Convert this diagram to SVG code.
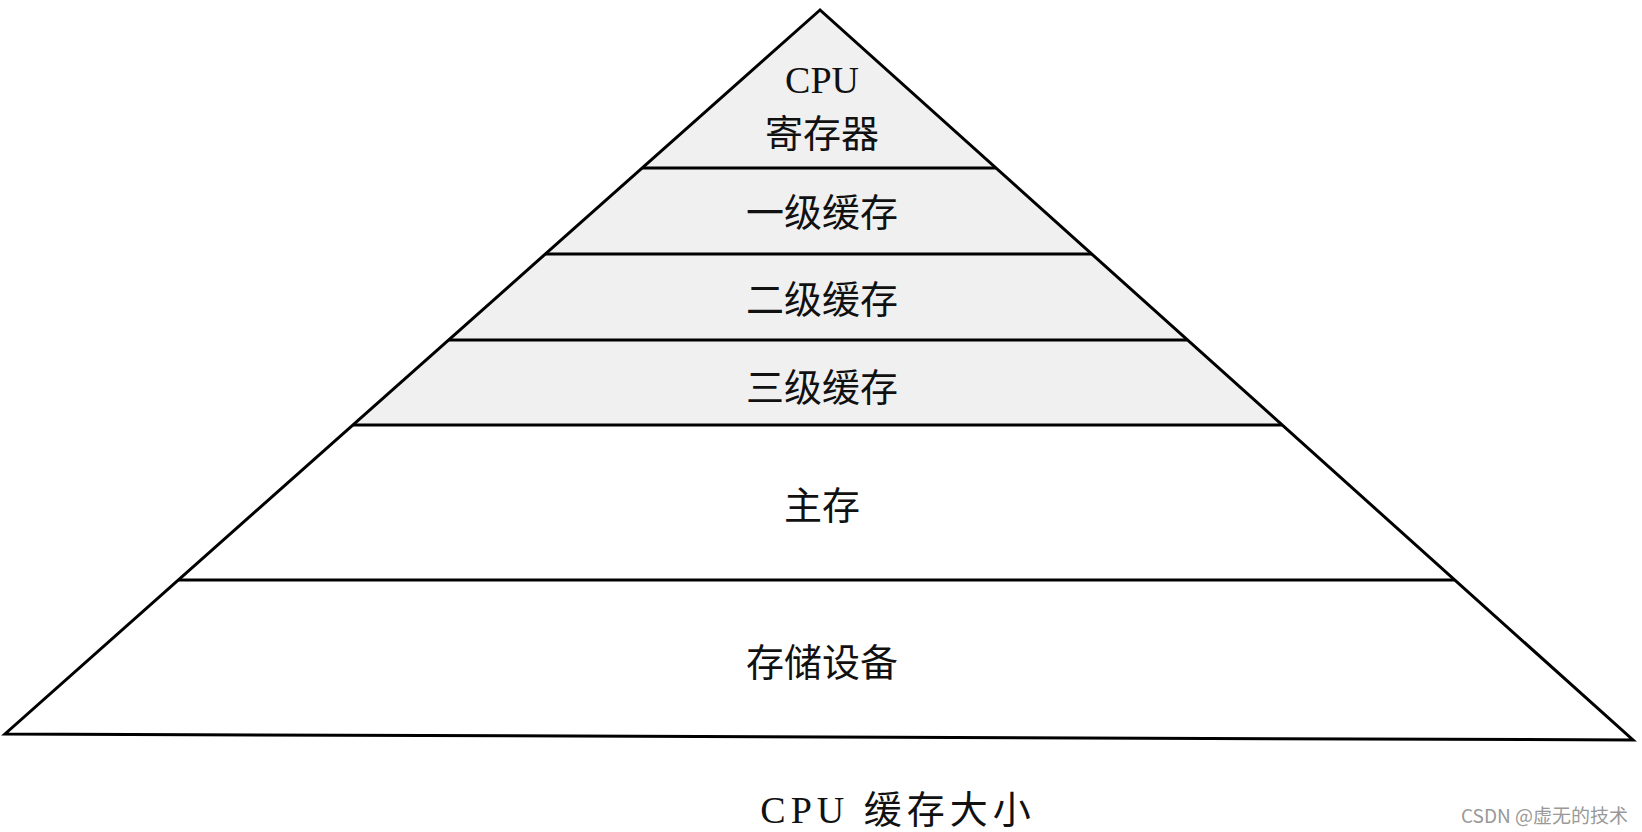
<svg xmlns="http://www.w3.org/2000/svg" width="1642" height="832" viewBox="0 0 1642 832">
<style>
.t{font-family:"Liberation Serif","Noto Sans CJK SC",serif;font-size:38px;fill:#111;text-anchor:middle;dominant-baseline:central}
.ln{stroke:#000;stroke-width:3;fill:none}
.g{fill:#f0f0f0}
</style>
<rect width="1642" height="832" fill="#fff"/>
<g id="fills">
<polygon class="g" points="820,10 353,425 1282,425"/>
</g>
<g id="connectors">
<polygon class="ln" points="820,10 5,734 1633,740"/>
<line class="ln" x1="642" y1="168" x2="996" y2="168"/>
<line class="ln" x1="545" y1="254" x2="1092" y2="254"/>
<line class="ln" x1="449" y1="340" x2="1187" y2="340"/>
<line class="ln" x1="353" y1="425" x2="1282" y2="425"/>
<line class="ln" x1="178" y1="580" x2="1455" y2="580"/>
</g>
<g id="n1"><text class="t" x="822" y="80">CPU</text><text class="t" x="822" y="134">寄存器</text></g>
<g id="n2"><text class="t" x="822" y="213">一级缓存</text></g>
<g id="n3"><text class="t" x="822" y="300">二级缓存</text></g>
<g id="n4"><text class="t" x="822" y="388">三级缓存</text></g>
<g id="n5"><text class="t" x="822" y="506">主存</text></g>
<g id="n6"><text class="t" x="822" y="663">存储设备</text></g>
<g id="caption"><text class="t" x="898" y="810" font-size="41" letter-spacing="5">CPU 缓存大小</text></g>
<text x="1628" y="814" font-family="'Noto Sans CJK SC',sans-serif" font-size="19" fill="#999" text-anchor="end" dominant-baseline="central">CSDN @虚无的技术</text>
</svg>
